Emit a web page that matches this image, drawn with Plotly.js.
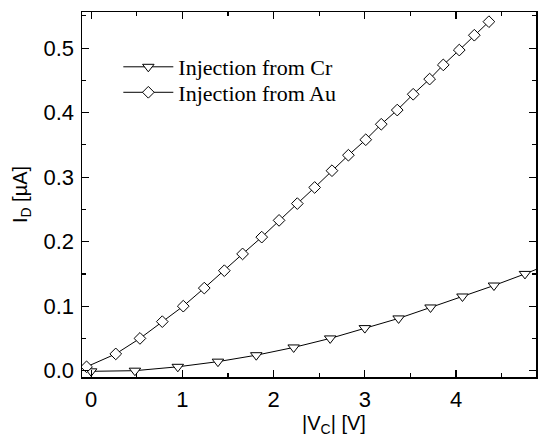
<!DOCTYPE html>
<html>
<head>
<meta charset="utf-8">
<script src="https://cdn.plot.ly/plotly-3.0.1.min.js"></script>
<style>html,body{margin:0;padding:0;background:#fff;}#chart{width:538px;height:439px;}</style>
</head>
<body>
<div id="chart"></div>
<script>
// Injection from Cr (triangles)
const crVc = [0.0, 0.48, 0.95, 1.39, 1.81, 2.22, 2.62, 3.0, 3.37, 3.72, 4.07, 4.415, 4.755, 5.09];
const crId = [-0.001, 0.0, 0.006, 0.014, 0.024, 0.036, 0.050, 0.066, 0.081, 0.098, 0.115, 0.132, 0.150, 0.169];
// Injection from Au (diamonds)
const auVc = [-0.05, 0.27, 0.535, 0.78, 1.01, 1.24, 1.46, 1.66, 1.87, 2.06, 2.26, 2.45, 2.64, 2.82, 3.01, 3.18, 3.355, 3.53, 3.71, 3.86, 4.035, 4.20, 4.36];
const auId = [0.006, 0.026, 0.050, 0.076, 0.100, 0.128, 0.155, 0.181, 0.207, 0.233, 0.259, 0.284, 0.310, 0.334, 0.358, 0.382, 0.404, 0.4285, 0.452, 0.474, 0.497, 0.520, 0.541];
const seriesNames = ['Injection from Cr', 'Injection from Au'];
const xTickVals = [0, 1, 2, 3, 4];
const yTickVals = [0, 0.1, 0.2, 0.3, 0.4, 0.5];
const xTitle = '|V<sub>C</sub>| [V]';
const yTitle = 'I<sub>D</sub> [µA]';

const traces = [
  {x: crVc, y: crId, name: seriesNames[0], type: 'scatter', mode: 'lines+markers', legend: 'legend',
   line: {color: '#000', width: 1},
   marker: {symbol: 'triangle-down', size: 10, color: '#fff', line: {color: '#000', width: 1}}},
  {x: auVc, y: auId, name: seriesNames[1], type: 'scatter', mode: 'lines+markers', legend: 'legend2',
   line: {color: '#000', width: 1},
   marker: {symbol: 'diamond', size: 9, color: '#fff', line: {color: '#000', width: 1}}}
];

const sans = 'Liberation Sans, Arial, sans-serif';
const legendFont = {family: 'Liberation Serif, Times New Roman, serif', size: 22, color: '#000'};

const axisCommon = {
  showline: true, linecolor: '#000', linewidth: 1.5, mirror: 'ticks',
  ticks: 'inside', ticklen: 7, tickwidth: 1.2, tickcolor: '#000',
  showgrid: false, zeroline: false, ticklabelstandoff: 2,
  tickfont: {family: sans, size: 22, color: '#000'}
};

const layout = {
  width: 538, height: 439,
  margin: {l: 82, r: 2, t: 12, b: 62},
  paper_bgcolor: '#fff', plot_bgcolor: '#fff',
  showlegend: true,
  legend: {x: 0.08, y: 0.8493, xanchor: 'left', yanchor: 'middle', bgcolor: 'rgba(0,0,0,0)',
    font: legendFont, itemwidth: 50},
  legend2: {x: 0.08, y: 0.7795, xanchor: 'left', yanchor: 'middle', bgcolor: 'rgba(0,0,0,0)',
    font: legendFont, itemwidth: 50},
  xaxis: Object.assign({}, axisCommon, {
    range: [-0.1, 4.876], tickvals: xTickVals, tickformat: 'd',
    minor: {dtick: 0.5, tick0: 0, ticks: 'inside', ticklen: 4, tickcolor: '#000', tickwidth: 1.2}
  }),
  yaxis: Object.assign({}, axisCommon, {
    range: [-0.0098, 0.556], tickvals: yTickVals, tickformat: '.1f',
    minor: {dtick: 0.05, tick0: 0, ticks: 'inside', ticklen: 4, tickcolor: '#000', tickwidth: 1.2},
    title: {text: yTitle, font: {family: sans, size: 20, color: '#000'}, standoff: 10}
  }),
  annotations: [
    {text: xTitle, xref: 'paper', yref: 'paper', x: 0.555, y: -0.13, xanchor: 'center', yanchor: 'middle',
     showarrow: false, font: {family: sans, size: 20, color: '#000'}}
  ]
};

Plotly.newPlot('chart', traces, layout, {staticPlot: true, displayModeBar: false});
</script>
</body>
</html>
